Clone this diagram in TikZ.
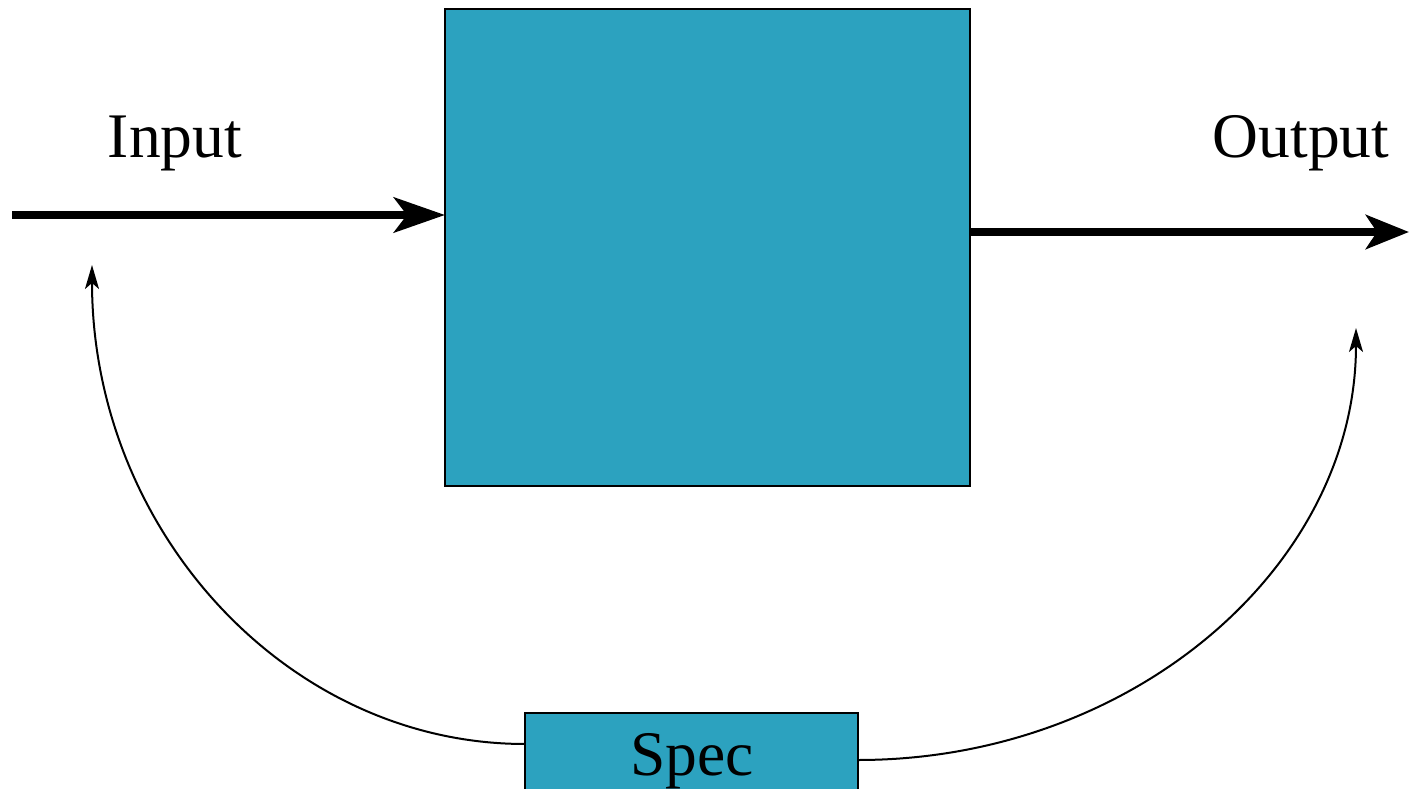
\documentclass[tikz,border=0pt]{standalone}
\usepackage{fontspec}
\setmainfont{Liberation Serif}
\usetikzlibrary{arrows.meta,calc}
\definecolor{boxblue}{RGB}{44,162,191}
\tikzset{
  block/.style={draw=black, line width=2.2pt, fill=boxblue, inner sep=0pt, outer sep=0pt},
  bigarrow/.style={line width=8.5pt, -{Stealth[length=51pt,width=35pt,inset=13pt]}},
  outarrow/.style={line width=8.5pt, -{Stealth[length=43pt,width=34pt,inset=11pt]}},
  fbarrow/.style={line width=2pt, -{Stealth[length=24pt,width=14pt,inset=6pt]}},
  lbl/.style={anchor=base, inner sep=0pt, font=\fontsize{63.5}{76}\selectfont}
}
\begin{document}
\begin{tikzpicture}[x=1pt,y=-1pt]
\useasboundingbox (0,0) rectangle (1409,789);
\node[block, minimum width=525pt, minimum height=477pt] (box) at (707.5,247.5) {};
\node[block, minimum width=333pt, minimum height=100pt] (spec) at (691.5,763) {};
\node[lbl] (spect) at (692,775) {Spec};
\node[lbl] (inl) at (175,158) {Input};
\node[lbl] (outl) at (1301,158) {Output};
\coordinate (inS) at (12,215);
\coordinate (outE) at (1409,232);
\coordinate (fbL) at (92,265);
\coordinate (fbR) at (1356,328);
\draw[bigarrow] (inS) -- (box.west |- inS);
\draw[outarrow] (box.east |- outE) -- (outE);
\coordinate (sL) at ($(spec.north west)+(0,31)$);
\coordinate (sR) at ($(spec.north east)+(0,47)$);
\draw[fbarrow] (sL) .. controls ($(sL)+(-239,0)$) and ($(fbL)+(0,264)$) .. (fbL);
\draw[fbarrow] (sR) .. controls ($(sR)+(275,0)$) and ($(fbR)+(0,238)$) .. (fbR);
\end{tikzpicture}
\end{document}
